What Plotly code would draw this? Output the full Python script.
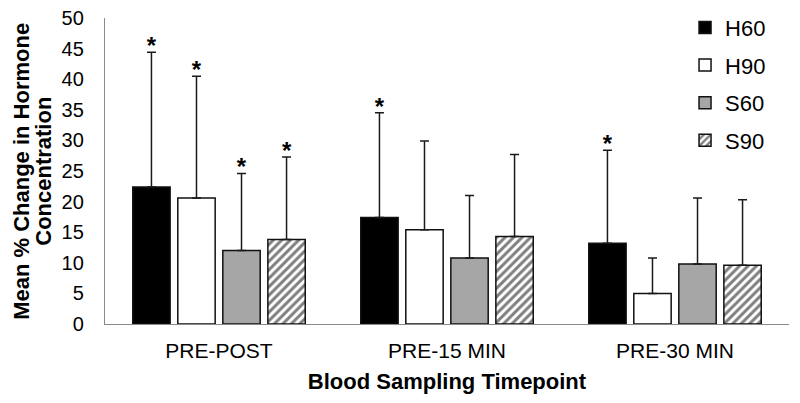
import plotly.graph_objects as go

categories = ["PRE-POST", "PRE-15 MIN", "PRE-30 MIN"]
series_names = ["H60", "H90", "S60", "S90"]
means = {
    "H60": [22.4, 17.4, 13.2],
    "H90": [20.6, 15.4, 5.0],
    "S60": [12.0, 10.8, 9.8],
    "S90": [13.8, 14.3, 9.6],
}
sds = {
    "H60": [22.0, 17.1, 15.2],
    "H90": [19.9, 14.5, 5.8],
    "S60": [12.6, 10.2, 10.8],
    "S90": [13.5, 13.4, 10.7],
}
significant = {
    "H60": [True, True, True],
    "H90": [True, False, False],
    "S60": [True, False, False],
    "S90": [True, False, False],
}
y_ticks = [0, 5, 10, 15, 20, 25, 30, 35, 40, 45, 50]

fills = {"H60": "#000000", "H90": "#ffffff", "S60": "#a6a6a6", "S90": "#ffffff"}
FONT = "Arial, Liberation Sans, sans-serif"
STAR_PAD = 0.7  # gap (axis units) between error-bar cap and the significance star

fig = go.Figure()
for name in series_names:
    marker = dict(color=fills[name], line=dict(color="#111111", width=1.5))
    if name == "S90":
        marker["pattern"] = dict(shape="/", fgcolor="#000000", bgcolor="#ffffff",
                                 size=6, solidity=0.5, fillmode="overlay")
    fig.add_trace(go.Bar(
        x=categories, y=means[name], name=name,
        offsetgroup=name, legendgroup=name,
        marker=marker,
        error_y=dict(type="data", symmetric=False, array=sds[name],
                     arrayminus=[0] * len(categories),
                     color="#1a1a1a", thickness=1.5, width=4.5),
    ))

for name in series_names:
    ys = [m + s + STAR_PAD if sig else None
          for m, s, sig in zip(means[name], sds[name], significant[name])]
    fig.add_trace(go.Scatter(
        x=categories, y=ys, mode="text",
        text=["*" if v is not None else "" for v in ys],
        textposition="middle center", offsetgroup=name, showlegend=False,
        textfont=dict(family=FONT, size=24, color="#000000", weight="bold"),
        hoverinfo="skip",
    ))

fig.update_layout(
    width=800, height=403,
    margin=dict(l=97, r=19, t=10, b=87, autoexpand=False),
    plot_bgcolor="white", paper_bgcolor="white",
    barmode="group", scattermode="group",
    bargap=0.21, bargroupgap=0.17, scattergap=0.21,
    font=dict(family=FONT, color="#000000", size=20),
    showlegend=True,
    legend=dict(x=0.848, y=1.037, xanchor="left", yanchor="top",
                font=dict(size=22, family=FONT), tracegroupgap=6,
                bgcolor="rgba(0,0,0,0)"),
    xaxis=dict(showline=True, linecolor="#8a8a8a", linewidth=1.3,
               ticks="", showgrid=False, tickfont=dict(size=21),
               ticklabelstandoff=8, automargin=False,
               ticklabeloverflow="allow",
               title=dict(text="<b>Blood Sampling Timepoint</b>",
                          font=dict(size=22), standoff=12)),
    yaxis=dict(range=[0, 50], tickvals=y_ticks, showline=True,
               linecolor="#8a8a8a", linewidth=1.3, ticks="", showgrid=False,
               zeroline=False, tickfont=dict(size=20), ticklabelstandoff=16,
               automargin=False, ticklabeloverflow="allow"),
    annotations=[
        dict(text="<b>Mean % Change in Hormone</b>", textangle=-90,
             xref="paper", yref="paper", x=-0.123, y=0.5,
             xanchor="center", yanchor="middle", showarrow=False,
             font=dict(size=22, family=FONT)),
        dict(text="<b>Concentration</b>", textangle=-90,
             xref="paper", yref="paper", x=-0.091, y=0.5,
             xanchor="center", yanchor="middle", showarrow=False,
             font=dict(size=22, family=FONT)),
    ],
)

fig.write_html("out.html")
